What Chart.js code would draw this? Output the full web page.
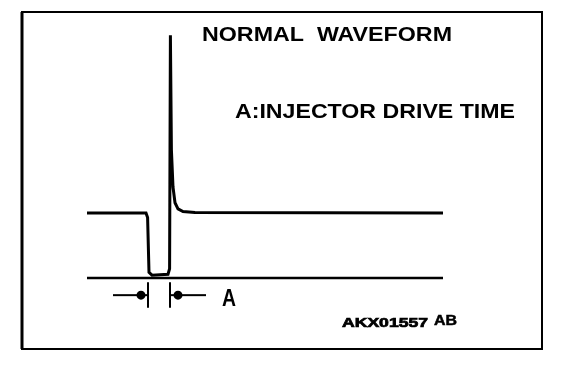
<!DOCTYPE html>
<html>
<head>
<meta charset="utf-8">
<script src="https://cdn.jsdelivr.net/npm/chart.js@4"></script>
<style>
  html, body { margin: 0; padding: 0; background: #fff; }
  canvas { display: block; }
</style>
</head>
<body>
<canvas id="waveChart" width="576" height="372"></canvas>
<script>
// injector signal, time in ms, voltage in V
const waveTime = [3.25, 6.2, 6.28, 6.35, 6.5, 7.3, 7.38, 7.42, 7.47, 7.55, 7.65, 7.8, 8.05, 8.65, 21.05];
const waveVolt = [14, 14, 13, 1.2, 0.6, 0.8, 2, 52.3, 27.6, 19.6, 16.2, 14.9, 14.3, 14.1, 14.0];

// ground reference line
const baseTime = [3.25, 21.05];
const baseVolt = [0, 0];

// drive time A: from drop to spike
const driveStart = 6.3;
const driveEnd = 7.4;
const arrowLen = 1.75;
const dimVolt = -3.7;
const tickVolt = [-0.9, -6.4];

const titleText = 'NORMAL  WAVEFORM';
const noteText = 'A:INJECTOR DRIVE TIME';
const dimLabel = 'A';
const codeText = 'AKX01557';
const codeSuffix = 'AB';

function pairs(xs, ys) {
    return xs.map((x, i) => ({ x: x, y: ys[i] }));
}

// draw text stretched to a given width
function fitText(ctx, text, x, y, width, heavy) {
    const w = ctx.measureText(text).width;
    ctx.save();
    ctx.translate(x, y);
    ctx.scale(width / w, 1);
    ctx.fillText(text, 0, 0);
    if (heavy) {
        ctx.lineWidth = heavy;
        ctx.strokeText(text, 0, 0);
    }
    ctx.restore();
}

const framePlugin = {
    id: 'framePlugin',
    afterDraw(chart) {
        const ctx = chart.ctx;
        const a = chart.chartArea;
        const xs = chart.scales.x;
        const ys = chart.scales.y;
        ctx.save();
        ctx.strokeStyle = '#000';
        ctx.lineWidth = 2;
        ctx.strokeRect(a.left, a.top, a.right - a.left, a.bottom - a.top);
        ctx.lineWidth = 3;
        ctx.beginPath();
        ctx.moveTo(a.left, a.top);
        ctx.lineTo(a.left, a.bottom);
        ctx.stroke();

        ctx.fillStyle = '#000';
        ctx.textBaseline = 'alphabetic';
        ctx.font = 'bold 21px "Liberation Sans", Arial, sans-serif';
        fitText(ctx, titleText, 202, 41, 250);
        fitText(ctx, noteText, 235, 118, 280);

        ctx.font = 'bold 23px "Liberation Sans", Arial, sans-serif';
        fitText(ctx, dimLabel, xs.getPixelForValue(driveEnd) + 52, ys.getPixelForValue(dimVolt) + 11, 14);

        ctx.font = 'bold 13px "Liberation Sans", Arial, sans-serif';
        fitText(ctx, codeText, 342, 327, 86, 0.7);
        ctx.font = 'bold 14px "Liberation Sans", Arial, sans-serif';
        fitText(ctx, codeSuffix, 434, 325, 23, 0.5);
        ctx.restore();
    }
};

new Chart(document.getElementById('waveChart'), {
    type: 'line',
    data: {
        datasets: [
            {
                data: pairs(waveTime, waveVolt),
                borderColor: '#000',
                borderWidth: 3,
                pointRadius: 0,
                tension: 0
            },
            {
                data: pairs(baseTime, baseVolt),
                borderColor: '#000',
                borderWidth: 2.6,
                pointRadius: 0
            },
            {
                data: [{ x: driveStart, y: tickVolt[0] }, { x: driveStart, y: tickVolt[1] }],
                borderColor: '#000',
                borderWidth: 2,
                pointRadius: 0
            },
            {
                data: [{ x: driveEnd, y: tickVolt[0] }, { x: driveEnd, y: tickVolt[1] }],
                borderColor: '#000',
                borderWidth: 2,
                pointRadius: 0
            },
            {
                data: [{ x: driveStart - arrowLen, y: dimVolt }, { x: driveStart - 0.35, y: dimVolt }],
                borderColor: '#000',
                backgroundColor: '#000',
                borderWidth: 2,
                pointStyle: 'circle',
                pointRadius: [0, 3.5],
                pointHoverRadius: 0
            },
            {
                data: [{ x: driveEnd + 0.4, y: dimVolt }, { x: driveEnd + arrowLen + 0.05, y: dimVolt }],
                borderColor: '#000',
                backgroundColor: '#000',
                borderWidth: 2,
                pointStyle: 'circle',
                pointRadius: [3.5, 0],
                pointHoverRadius: 0
            },
            {
                data: [{ x: driveEnd, y: dimVolt }, { x: driveEnd + 0.4, y: dimVolt }],
                borderColor: '#000',
                borderWidth: 2,
                pointRadius: 0
            },
            {
                data: [{ x: driveStart - 0.35, y: dimVolt }, { x: driveStart, y: dimVolt }],
                borderColor: '#000',
                borderWidth: 2,
                pointRadius: 0
            }
        ]
    },
    options: {
        responsive: false,
        animation: false,
        devicePixelRatio: 1,
        layout: { padding: { left: 22, right: 34, top: 12, bottom: 23 } },
        plugins: {
            legend: { display: false },
            tooltip: { enabled: false }
        },
        scales: {
            x: { type: 'linear', display: false, min: 0, max: 26 },
            y: { type: 'linear', display: false, min: -15.3, max: 57.3 }
        }
    },
    plugins: [framePlugin]
});
</script>
</body>
</html>
